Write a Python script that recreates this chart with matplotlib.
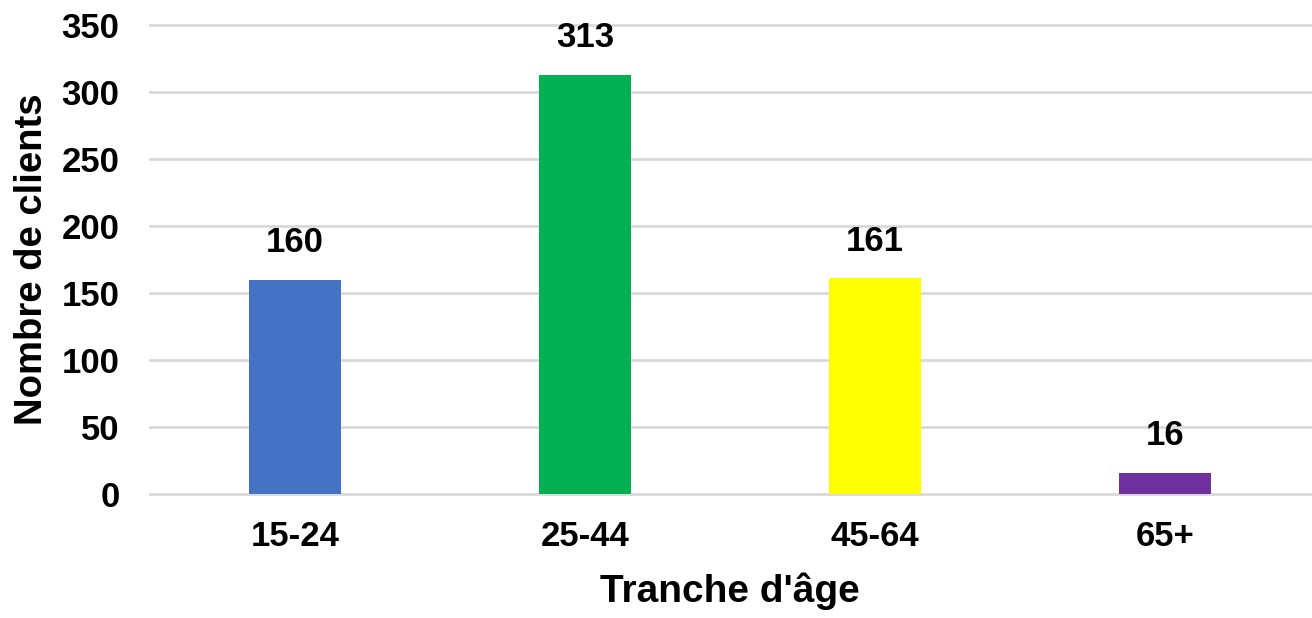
import matplotlib
matplotlib.use("Agg")
import matplotlib.pyplot as plt

categories = ["15-24", "25-44", "45-64", "65+"]
values = [160, 313, 161, 16]
colors = ["#4472C4", "#00B050", "#FFFF00", "#7030A0"]
yticks = [0, 50, 100, 150, 200, 250, 300, 350]

plt.rcParams['font.family'] = ['Liberation Sans', 'DejaVu Sans']
plt.rcParams['font.weight'] = 'bold'

fig = plt.figure(figsize=(13.12, 6.18), dpi=100)
ax = fig.add_axes([0.1143, 0.2006, 0.8842, 0.7589])

x = list(range(len(categories)))
bars = ax.bar(x, values, width=0.32, color=colors, zorder=3)
for xi, v in zip(x, values):
    ax.annotate(str(v), (xi, v), xytext=(0, 26.5), textcoords="offset points",
                ha="center", va="center", fontsize=25, fontweight="bold")

ax.set_xlim(-0.5, len(categories) - 0.5)
ax.set_ylim(0, 350)
ax.set_yticks(yticks)
ax.set_xticks(x)
ax.set_xticklabels(categories)
ax.grid(axis="y", color="#D9D9D9", linewidth=2, zorder=0)
for gl in ax.get_ygridlines():
    gl.set_clip_on(False)
ax.tick_params(axis="both", length=0, labelsize=25)
ax.tick_params(axis="y", pad=22)
ax.tick_params(axis="x", pad=19)
for lab in ax.get_xticklabels() + ax.get_yticklabels():
    lab.set_fontweight("bold")
for s in ax.spines.values():
    s.set_visible(False)

ax.set_xlabel("Tranche d'âge", fontsize=28, fontweight="bold", labelpad=14)
ax.set_ylabel("Nombre de clients", fontsize=27.5, fontweight="bold", labelpad=8)

fig.savefig("out.png", dpi=100)
